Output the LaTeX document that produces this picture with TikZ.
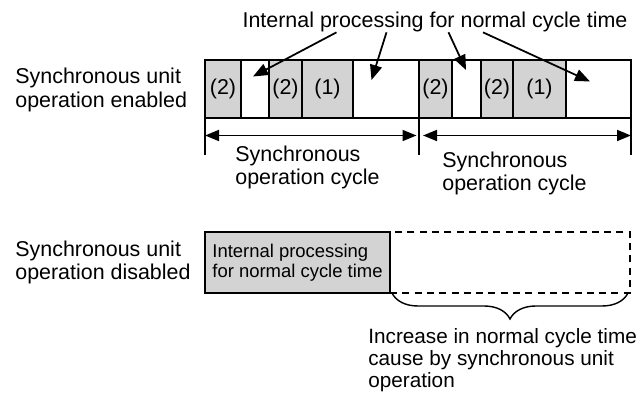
\documentclass[tikz,border=0pt]{standalone}
\usepackage{fontspec}
\setmainfont{Liberation Sans}
\usepackage{tikz}
\usetikzlibrary{arrows.meta,positioning,decorations.pathreplacing}
\definecolor{cellgray}{HTML}{D3D3D3}
\tikzset{
    cell/.style={rectangle, draw=black, line width=0.8pt, minimum height=1.16cm,
        inner sep=0pt, outer sep=0pt, font=\fontsize{12.2}{14}\selectfont},
    busy/.style={cell, fill=cellgray},
    sidetext/.style={align=left, inner sep=0pt, font=\fontsize{12.2}{13.2}\selectfont},
    pointer/.style={-{Triangle[length=3mm,width=2.4mm]}, line width=1pt},
    span/.style={{Triangle[length=2.8mm,width=2.2mm]}-{Triangle[length=2.8mm,width=2.2mm]}, line width=1pt}
}

\begin{document}
\begin{tikzpicture}
        \useasboundingbox (0,0) rectangle (12.86,7.88);
        % enabled: two synchronous cycles
        \node[busy, minimum width=0.72cm, anchor=south west] (c1) at (4.10,5.52) {(2)};
        \node[cell, minimum width=0.56cm, right=0pt of c1] (c2) {};
        \node[busy, minimum width=0.66cm, right=0pt of c2] (c3) {(2)};
        \node[busy, minimum width=1.02cm, right=0pt of c3] (c4) {(1)};
        \node[cell, minimum width=1.32cm, right=0pt of c4] (c5) {};
        \node[busy, minimum width=0.66cm, right=0pt of c5] (c6) {(2)};
        \node[cell, minimum width=0.58cm, right=0pt of c6] (c7) {};
        \node[busy, minimum width=0.64cm, right=0pt of c7] (c8) {(2)};
        \node[busy, minimum width=1.06cm, right=0pt of c8] (c9) {(1)};
        \node[cell, minimum width=1.30cm, right=0pt of c9] (c10) {};
        \node[sidetext, anchor=west] (en) at (0.30,6.08) {Synchronous unit\\operation enabled};
        \node[sidetext] (title) at (8.70,7.44) {Internal processing for normal cycle time};
        \coordinate (p1) at (5.06,6.35);
        \coordinate (p2) at (7.43,6.28);
        \coordinate (p3) at (9.32,6.48);
        \coordinate (p4) at (11.80,6.25);
        \draw[pointer] ([xshift=-1.97cm]title.south) -- (p1);
        \draw[pointer] ([xshift=-0.97cm]title.south) -- (p2);
        \draw[pointer] ([xshift=0.27cm]title.south) -- (p3);
        \draw[pointer] ([xshift=0.96cm]title.south) -- (p4);
        % cycle marks
        \coordinate (t1) at ([yshift=-0.74cm]c1.south west);
        \coordinate (t2) at ([yshift=-0.74cm]c6.south west);
        \coordinate (t3) at ([yshift=-0.74cm]c10.south east);
        \draw[line width=0.8pt] (c1.south west) -- (t1);
        \draw[line width=0.8pt] (c6.south west) -- (t2);
        \draw[line width=0.8pt] (c10.south east) -- (t3);
        \draw[span] ([yshift=-0.35cm]c1.south west) -- ([xshift=-0.05cm,yshift=-0.35cm]c5.south east);
        \draw[span] ([xshift=0.08cm,yshift=-0.35cm]c6.south west) -- ([yshift=-0.35cm]c10.south east);
        \node[sidetext, anchor=west] (cyc1) at (4.70,4.53) {Synchronous\\operation cycle};
        \node[sidetext, anchor=west] (cyc2) at (8.84,4.41) {Synchronous\\operation cycle};
        % disabled
        \node[sidetext, anchor=west] (dis) at (0.30,2.63) {Synchronous unit\\operation disabled};
        \node[busy, minimum height=1.22cm, minimum width=3.70cm, align=left,
            font=\fontsize{10.5}{11.5}\selectfont, anchor=south west] (normal) at (4.10,2.02)
            {Internal processing\\for normal cycle time};
        \node[cell, dashed, dash pattern=on 4pt off 3pt, minimum height=1.22cm,
            minimum width=4.80cm, right=0pt of normal] (extra) {};
        \draw[decorate, decoration={brace, mirror, amplitude=0.52cm}, line width=0.8pt]
            ([xshift=0.04cm]extra.south west) -- ([xshift=-0.04cm]extra.south east);
        \node[sidetext, anchor=west, font=\fontsize{11.8}{12.6}\selectfont] (incr) at (7.36,0.68)
            {Increase in normal cycle time\\cause by synchronous unit\\operation};
    \end{tikzpicture}
\end{document}
